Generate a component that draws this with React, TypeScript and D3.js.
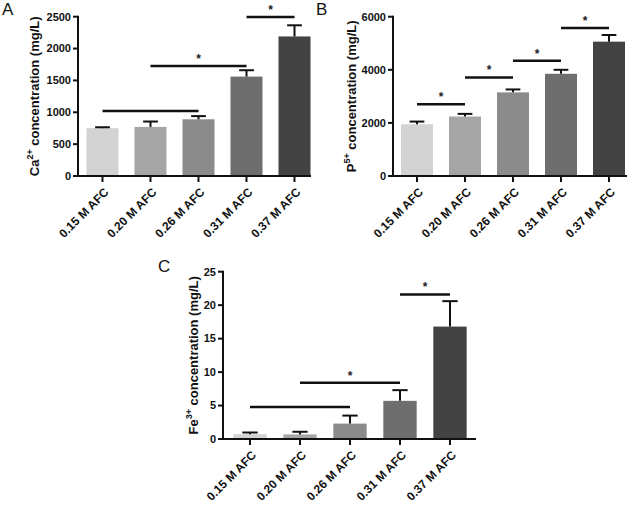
import React from "react";
import * as d3 from "d3";

const categories = ["0.15 M AFC", "0.20 M AFC", "0.26 M AFC", "0.31 M AFC", "0.37 M AFC"];
const barColors = ["#d3d3d3", "#a5a5a5", "#8b8b8b", "#6e6e6e", "#434343"];

const caMeans = [750, 770, 890, 1560, 2190];
const caErrors = [15, 85, 50, 100, 175];
const caTicks = [0, 500, 1000, 1500, 2000, 2500];
const caSig = [
  { from: 0, to: 2, y: 1020, star: false },
  { from: 1, to: 3, y: 1725, star: true },
  { from: 3, to: 4, y: 2495, star: true },
];

const pMeans = [1950, 2240, 3150, 3850, 5060];
const pErrors = [100, 100, 110, 150, 250];
const pTicks = [0, 2000, 4000, 6000];
const pSig = [
  { from: 0, to: 1, y: 2700, star: true },
  { from: 1, to: 2, y: 3710, star: true },
  { from: 2, to: 3, y: 4340, star: true },
  { from: 3, to: 4, y: 5575, star: true },
];

const feMeans = [0.72, 0.68, 2.3, 5.7, 16.8];
const feErrors = [0.25, 0.4, 1.2, 1.6, 3.8];
const feTicks = [0, 5, 10, 15, 20, 25];
const feSig = [
  { from: 0, to: 2, y: 4.8, star: false },
  { from: 1, to: 3, y: 8.4, star: true },
  { from: 3, to: 4, y: 21.6, star: true },
];

const FONT = "'Liberation Sans', Arial, Helvetica, sans-serif";

type Sig = { from: number; to: number; y: number; star: boolean };

function Panel(props: {
  letter: string;
  letterX: number;
  letterY: number;
  ion: string;
  charge: string;
  means: number[];
  errors: number[];
  ticks: number[];
  sig: Sig[];
  axisX: number;
  bandStart: number;
  step: number;
  axisEnd: number;
  y0: number;
  y1: number;
  titleX: number;
}) {
  const { means, errors, ticks, sig } = props;
  const x = d3
    .scaleBand<string>()
    .domain(categories)
    .range([props.bandStart, props.bandStart + props.step * categories.length])
    .paddingInner(1 / 3)
    .paddingOuter(1 / 6);
  const yMax = ticks[ticks.length - 1];
  const y = d3.scaleLinear().domain([0, yMax]).range([props.y0, props.y1]);
  const bw = x.bandwidth();
  const capW = bw * 0.46;
  const cx = (i: number) => (x(categories[i]) as number) + bw / 2;
  const titleY = (props.y0 + props.y1) / 2;
  return (
    <g>
      <text x={props.letterX} y={props.letterY} fontSize={17} fontFamily={FONT} fill="#111">
        {props.letter}
      </text>
      {categories.map((c, i) => (
        <rect
          key={c}
          x={x(c) as number}
          y={y(means[i])}
          width={bw}
          height={y(0) - y(means[i])}
          fill={barColors[i]}
        />
      ))}
      {categories.map((c, i) => (
        <g key={"e" + c} stroke="#111" strokeWidth={2}>
          <line x1={cx(i)} x2={cx(i)} y1={y(means[i])} y2={y(means[i] + errors[i])} />
          <line
            x1={cx(i) - capW / 2}
            x2={cx(i) + capW / 2}
            y1={y(means[i] + errors[i])}
            y2={y(means[i] + errors[i])}
          />
        </g>
      ))}
      {sig.map((s, k) => (
        <g key={"s" + k}>
          <line x1={cx(s.from)} x2={cx(s.to)} y1={y(s.y)} y2={y(s.y)} stroke="#111" strokeWidth={2.5} />
          {s.star && (
            <text
              x={(cx(s.from) + cx(s.to)) / 2}
              y={y(s.y) - 3}
              textAnchor="middle"
              fontSize={12}
              fontWeight="bold"
              fontFamily={FONT}
              fill="#222"
            >
              *
            </text>
          )}
        </g>
      ))}
      {/* y axis */}
      <line x1={props.axisX} x2={props.axisX} y1={y(yMax) - 1} y2={y(0) + 1} stroke="#111" strokeWidth={2} />
      {ticks.map((t) => (
        <g key={"t" + t}>
          <line x1={props.axisX - 5} x2={props.axisX} y1={y(t)} y2={y(t)} stroke="#111" strokeWidth={2} />
          <text
            x={props.axisX - 7}
            y={y(t)}
            dy="0.35em"
            textAnchor="end"
            fontSize={11}
            fontWeight="bold"
            fontFamily={FONT}
            fill="#111"
          >
            {t}
          </text>
        </g>
      ))}
      {/* x axis */}
      <line x1={props.axisX - 1} x2={props.axisEnd} y1={y(0)} y2={y(0)} stroke="#111" strokeWidth={2} />
      {categories.map((c, i) => (
        <g key={"x" + c}>
          <line x1={cx(i)} x2={cx(i)} y1={y(0)} y2={y(0) + 6} stroke="#111" strokeWidth={2} />
          <text
            transform={`translate(${cx(i) + 4},${y(0) + 14}) rotate(-45)`}
            textAnchor="end"
            dy="0.35em"
            fontSize={12}
            fontWeight="bold"
            fontFamily={FONT}
            fill="#111"
          >
            {c}
          </text>
        </g>
      ))}
      <text
        transform={`translate(${props.titleX},${titleY}) rotate(-90)`}
        textAnchor="middle"
        dy="0.35em"
        fontSize={13}
        fontWeight="bold"
        fontFamily={FONT}
        fill="#111"
      >
        {props.ion}
        <tspan fontSize={9} dy={-6}>
          {props.charge}
        </tspan>
        <tspan dy={6}> concentration (mg/L)</tspan>
      </text>
    </g>
  );
}

export default function App() {
  return (
    <svg
      width={636}
      height={505}
      style={{ position: "absolute", left: 0, top: 0, background: "#fff" }}
    >
      <rect width={636} height={505} fill="#fff" />
      <Panel
        letter="A"
        letterX={2}
        letterY={15}
        ion="Ca"
        charge="2+"
        means={caMeans}
        errors={caErrors}
        ticks={caTicks}
        sig={caSig}
        axisX={78}
        bandStart={78.5}
        step={48}
        axisEnd={311}
        y0={176}
        y1={16.7}
        titleX={34}
      />
      <Panel
        letter="B"
        letterX={316}
        letterY={15}
        ion="P"
        charge="5+"
        means={pMeans}
        errors={pErrors}
        ticks={pTicks}
        sig={pSig}
        axisX={393}
        bandStart={393}
        step={48}
        axisEnd={627}
        y0={176}
        y1={16.7}
        titleX={351}
      />
      <Panel
        letter="C"
        letterX={158}
        letterY={272}
        ion="Fe"
        charge="3+"
        means={feMeans}
        errors={feErrors}
        ticks={feTicks}
        sig={feSig}
        axisX={223}
        bandStart={225}
        step={50}
        axisEnd={476}
        y0={439}
        y1={271.7}
        titleX={193}
      />
    </svg>
  );
}
